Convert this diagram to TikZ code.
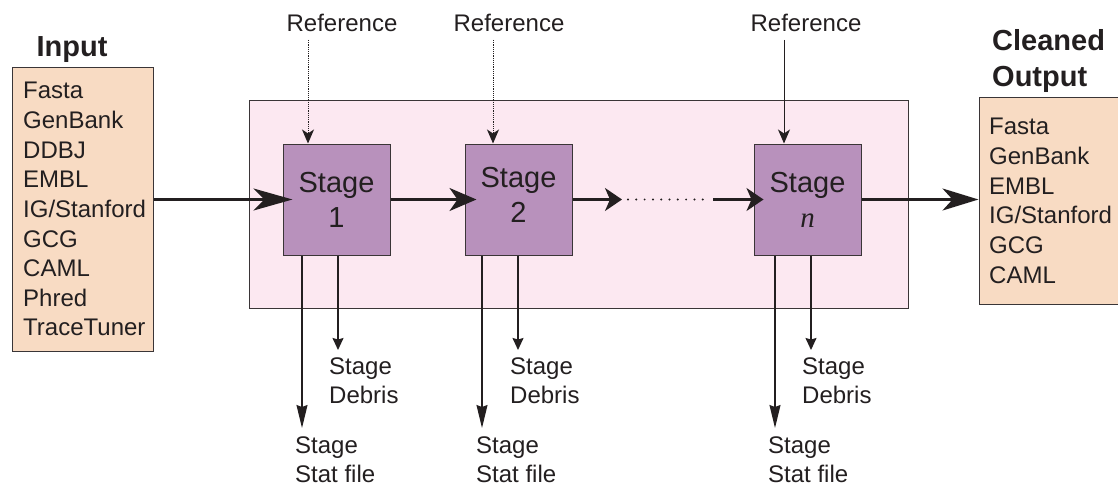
\documentclass[tikz,border=0pt]{standalone}
\usepackage{fontspec}
\setmainfont{Liberation Sans}
\newfontfamily\serifit{Liberation Serif}
\usetikzlibrary{arrows.meta}

\definecolor{ink}{HTML}{231F20}
\definecolor{edge}{HTML}{3A3537}
\definecolor{peach}{HTML}{F8DBC3}
\definecolor{blush}{HTML}{FCE8F1}
\definecolor{mauve}{HTML}{B891BC}

\tikzset{
  lbl/.style={inner sep=0pt, anchor=base west, text=ink,
    font=\fontsize{24}{29.6}\selectfont},
  reflbl/.style={lbl, anchor=base},
  heading/.style={inner sep=0pt, text=ink,
    font=\fontsize{29}{36}\selectfont\bfseries},
  stagetxt/.style={inner sep=0pt, anchor=base, text=ink,
    font=\fontsize{29}{35}\selectfont},
  listbox/.style={draw=edge, fill=peach, line width=1pt, inner sep=0pt},
  stagebox/.style={draw=edge, fill=mauve, line width=1pt, inner sep=0pt,
    minimum width=107pt, minimum height=111pt},
  flow/.style={draw=ink, line width=2.4pt},
  refarrow/.style={draw=ink, line width=1pt,
    -{Stealth[length=14pt,width=12pt,inset=4pt]}},
  debrisarrow/.style={draw=ink, line width=1.3pt,
    -{Stealth[length=12pt,width=11pt,inset=1.5pt]}},
  statarrow/.style={draw=ink, line width=1.3pt,
    -{Stealth[length=23pt,width=11pt,inset=2pt]}},
}

\begin{document}
\begin{tikzpicture}[x=1pt, y=-1pt]
\useasboundingbox (0,0) rectangle (1118,484);

% container of the pipeline
\node[draw=edge, fill=blush, line width=1pt, inner sep=0pt,
      minimum width=659pt, minimum height=207pt] (pipe) at (578.5,204.5) {};

% input formats
\node[heading, anchor=base] (intitle) at (72,57) {Input};
\node[listbox, minimum width=141pt, minimum height=283pt] (inbox) at (82.5,209.5) {};
\foreach \t [count=\i] in {Fasta,GenBank,DDBJ,EMBL,IG/Stanford,GCG,CAML,Phred,TraceTuner}
  \node[lbl] (in\i) at (23,{99+29.6*(\i-1)}) {\t};

% cleaned output formats
\node[heading, anchor=base west] (outtitle1) at (992,51) {Cleaned};
\node[heading, anchor=base west] (outtitle2) at (992,87) {Output};
\node[listbox, minimum width=150pt, minimum height=206pt] (outbox) at (1054,201) {};
\foreach \t [count=\i] in {Fasta,GenBank,EMBL,IG/Stanford,GCG,CAML}
  \node[lbl] (out\i) at (989,{135+29.6*(\i-1)}) {\t};

% stages
\node[stagebox] (s1) at (336.5,199.5) {};
\node[stagebox] (s2) at (518.5,199.5) {};
\node[stagebox] (sn) at (807.5,199.5) {};
\node[stagetxt] (s1a) at (336.5,192) {Stage};
\node[stagetxt] (s1b) at (336.5,227) {1};
\node[stagetxt] (s2a) at (518.5,187) {Stage};
\node[stagetxt] (s2b) at (518.5,222) {2};
\node[stagetxt] (sna) at (807.5,192) {Stage};
\node[stagetxt] (snb) at (807.5,227) {{\serifit\itshape n}};

% reference inputs
\node[reflbl] (r1) at (342,32) {Reference};
\node[reflbl] (r2) at (509,32) {Reference};
\node[reflbl] (rn) at (806,32) {Reference};
\coordinate (r1s) at (308,40);
\coordinate (r2s) at (493,40);
\coordinate (rns) at (784,40);
\draw[refarrow, dash pattern=on 1.2pt off 1pt] (r1s) -- (r1s |- s1.north);
\draw[refarrow, dash pattern=on 1.2pt off 1pt] (r2s) -- (r2s |- s2.north);
\draw[refarrow] (rns) -- (rns |- sn.north);

% main data flow
\coordinate (dotA) at (622,199.5);
\coordinate (dotB) at (628,199.5);
\coordinate (dotC) at (703,199.5);
\coordinate (dotD) at (713,199.5);
\draw[flow, -{Stealth[length=39pt,width=22pt,inset=11pt]}, shorten >=-10pt]
  (inbox.east |- s1.west) -- (s1.west);
\draw[flow, -{Stealth[length=27pt,width=23pt,inset=8pt]}, shorten >=-12pt]
  (s1.east) -- (s2.west);
\draw[flow, -{Stealth[length=17pt,width=23pt,inset=5pt]}]
  (s2.east) -- (dotA);
\draw[ink, line width=2.2pt, line cap=round, dash pattern=on 0pt off 8.3pt]
  (dotB) -- (dotC);
\draw[flow, -{Stealth[length=17pt,width=23pt,inset=5pt]}, shorten >=-10pt]
  (dotD) -- (sn.west);
\draw[flow, -{Stealth[length=36pt,width=22pt,inset=10pt]}]
  (sn.east) -- (sn.east -| outbox.west);

% stage debris and statistics files
\node[lbl] (d1a) at (329,374) {Stage};
\node[lbl] (d1b) at (329,403) {Debris};
\node[lbl] (t1a) at (295,453) {Stage};
\node[lbl] (t1b) at (295,482) {Stat file};
\node[lbl] (d2a) at (510,374) {Stage};
\node[lbl] (d2b) at (510,403) {Debris};
\node[lbl] (t2a) at (476,453) {Stage};
\node[lbl] (t2b) at (476,482) {Stat file};
\node[lbl] (dna) at (802,374) {Stage};
\node[lbl] (dnb) at (802,403) {Debris};
\node[lbl] (tna) at (768,453) {Stage};
\node[lbl] (tnb) at (768,482) {Stat file};

\coordinate (t1e) at (302,428);
\coordinate (d1e) at (338,350);
\coordinate (t2e) at (482,428);
\coordinate (d2e) at (518,350);
\coordinate (tne) at (775,428);
\coordinate (dne) at (811,350);
\draw[statarrow] (t1e |- s1.south) -- (t1e);
\draw[debrisarrow] (d1e |- s1.south) -- (d1e);
\draw[statarrow] (t2e |- s2.south) -- (t2e);
\draw[debrisarrow] (d2e |- s2.south) -- (d2e);
\draw[statarrow] (tne |- sn.south) -- (tne);
\draw[debrisarrow] (dne |- sn.south) -- (dne);
\end{tikzpicture}
\end{document}
